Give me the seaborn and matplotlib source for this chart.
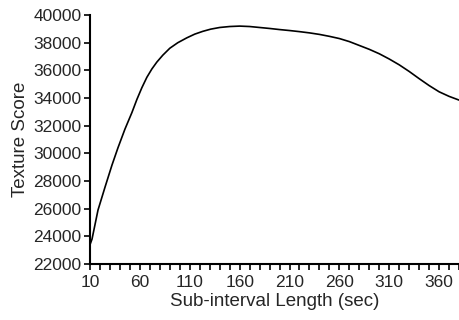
import matplotlib
matplotlib.use("Agg")
import matplotlib.pyplot as plt
from matplotlib.ticker import MultipleLocator
import seaborn as sns
import pandas as pd

sub_interval = [10, 12, 18, 25, 32, 38, 45, 52, 57, 62, 67, 72, 77, 83, 90, 98, 107, 115,
                123, 131, 140, 150, 160, 170, 180, 190, 200, 210, 220, 230, 240, 250, 260,
                270, 280, 290, 300, 310, 320, 330, 340, 350, 360, 370, 380]
texture_score = [23400, 23800, 25900, 27550, 29150, 30400, 31750, 32950, 33900, 34750, 35500,
                 36100, 36600, 37100, 37600, 38000, 38350, 38620, 38820, 38980, 39100, 39170,
                 39200, 39170, 39100, 39030, 38950, 38880, 38800, 38710, 38600, 38460, 38300,
                 38080, 37800, 37520, 37200, 36820, 36400, 35920, 35400, 34900, 34450, 34120,
                 33850]

x_ticks = [10, 60, 110, 160, 210, 260, 310, 360]
y_ticks = [22000, 24000, 26000, 28000, 30000, 32000, 34000, 36000, 38000, 40000]

df = pd.DataFrame({"x": sub_interval, "y": texture_score})

sns.set_style("ticks")
plt.rcParams["font.family"] = ["Liberation Sans", "DejaVu Sans"]

fig = plt.figure(figsize=(4.6, 3.2), dpi=100)
ax = fig.add_axes([0.1957, 0.175, 0.8023, 0.778])
sns.lineplot(data=df, x="x", y="y", ax=ax, color="black", linewidth=1.2)

ax.set_xlim(10, 380)
ax.set_ylim(22000, 40000)
ax.set_xticks(x_ticks)
ax.set_yticks(y_ticks)
ax.xaxis.set_minor_locator(MultipleLocator(10))
ax.tick_params(axis="both", which="both", direction="out", length=4, width=1.2,
               color="black", labelsize=12.5, pad=2)
ax.tick_params(axis="x", which="major", pad=4)
for s in ["top", "right"]:
    ax.spines[s].set_visible(False)
for s in ["left", "bottom"]:
    ax.spines[s].set_linewidth(1.5)
    ax.spines[s].set_color("black")
ax.set_xlabel("Sub-interval Length (sec)", fontsize=13.5, labelpad=2)
ax.set_ylabel("Texture Score", fontsize=13.5, labelpad=3)

fig.savefig("out.png", dpi=100)
